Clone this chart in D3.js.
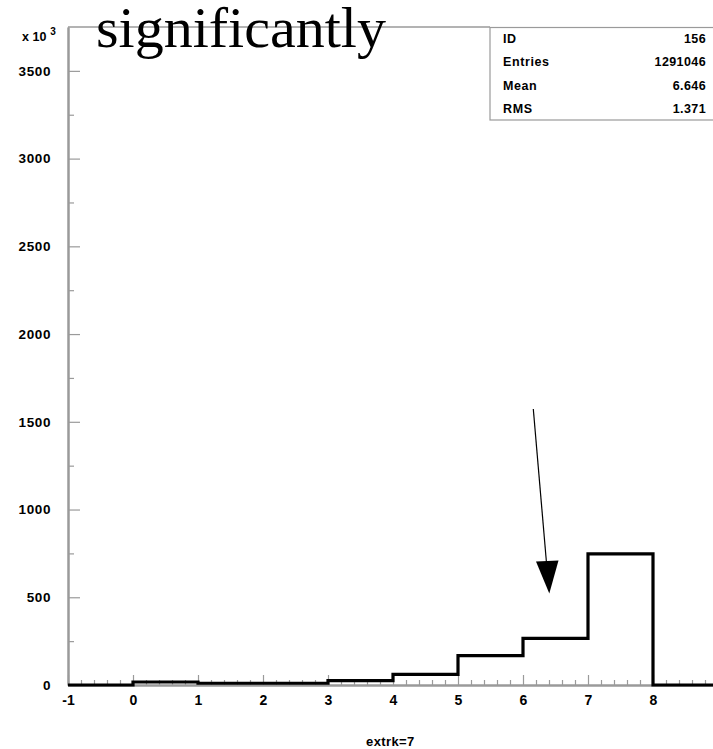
<!DOCTYPE html>
<html><head><meta charset="utf-8">
<script src="https://cdn.jsdelivr.net/npm/d3@7"></script>
<style>
html,body{margin:0;padding:0;background:#fff;overflow:hidden;}
svg{display:block;}
.lbl{font-family:"Liberation Sans",Arial,sans-serif;font-weight:bold;fill:#000;}
</style></head>
<body>
<script>
// ---- data ----
const binEdges = [-1, 0, 1, 2, 3, 4, 5, 6, 7, 8];      // bin lower edges (width 1)
const binCounts = [0, 17, 10, 10, 25, 60, 167, 266, 747, 0]; // in units of 10^3
const yTickValues = [0, 500, 1000, 1500, 2000, 2500, 3000, 3500];
const xTickValues = [-1, 0, 1, 2, 3, 4, 5, 6, 7, 8];
const statLabels = ["ID", "Entries", "Mean", "RMS"];
const statValues = ["156", "1291046", "6.646", "1.371"];
const titleText = "significantly";
const xTitle = "extrk=7";

const W = 713, H = 749;
const svg = d3.select("body").append("svg").attr("width", W).attr("height", H);

const x = d3.scaleLinear().domain([-1, 9]).range([68, 718]);
const y = d3.scaleLinear().domain([0, 3750]).range([685, 27]);

const axisColor = "#9a9a9a";
const plainFmt = d => String(d);

// frame top line
svg.append("line").attr("x1", 68).attr("x2", 490).attr("y1", y(3750)).attr("y2", y(3750))
  .attr("stroke", axisColor).attr("stroke-width", 1.5);

// y axis minor ticks
const yMinor = d3.range(250, 3750, 500);
const gyMinor = svg.append("g").attr("transform", "translate(68,0)")
  .call(d3.axisLeft(y).tickValues(yMinor).tickSizeInner(-6).tickSizeOuter(0).tickFormat(""));
// y axis major
const gy = svg.append("g").attr("transform", "translate(68,0)")
  .call(d3.axisLeft(y).tickValues(yTickValues).tickSizeInner(-12).tickSizeOuter(0).tickPadding(17).tickFormat(plainFmt));
[gy, gyMinor].forEach(g => {
  g.select(".domain").attr("stroke", axisColor).attr("stroke-width", 2);
  g.selectAll(".tick line").attr("stroke", axisColor).attr("stroke-width", 1.2);
});
gy.selectAll(".tick text").attr("class", "lbl").style("font-size", "13.5px").style("letter-spacing", "0.6px");

// x axis minor ticks
const xMinor = d3.range(-1, 9.001, 0.2).map(v => Math.round(v * 10) / 10).filter(v => Math.abs(v - Math.round(v)) > 1e-6);
const gxMinor = svg.append("g").attr("transform", "translate(0,685)")
  .call(d3.axisBottom(x).tickValues(xMinor).tickSizeInner(-5).tickSizeOuter(0).tickFormat(""));
const gx = svg.append("g").attr("transform", "translate(0,685)")
  .call(d3.axisBottom(x).tickValues(xTickValues).tickSizeInner(-10).tickSizeOuter(0).tickPadding(10).tickFormat(plainFmt));
[gx, gxMinor].forEach(g => {
  g.select(".domain").attr("stroke", axisColor).attr("stroke-width", 2);
  g.selectAll(".tick line").attr("stroke", axisColor).attr("stroke-width", 1.2);
});
gx.selectAll(".tick text").attr("class", "lbl").style("font-size", "14px");

// histogram step line
const pts = binEdges.map((e, i) => [e, binCounts[i]]);
pts.push([binEdges[binEdges.length - 1] + 1, binCounts[binCounts.length - 1]]);
const line = d3.line().x(d => x(d[0])).y(d => y(d[1])).curve(d3.curveStepAfter);
svg.append("path").attr("d", line(pts)).attr("fill", "none").attr("stroke", "#000")
  .attr("stroke-width", 3.2).attr("stroke-linejoin", "miter");

// x10^3 label
const mult = svg.append("text").attr("class", "lbl").attr("x", 22).attr("y", 41).style("font-size", "12.5px");
mult.append("tspan").text("x 10");
mult.append("tspan").attr("dx", 4).attr("dy", -6).style("font-size", "10px").text("3");

// title
svg.append("text").attr("x", 96).attr("y", 47)
  .style("font-family", '"Liberation Serif","Times New Roman",serif').style("font-size", "58px")
  .attr("fill", "#000").text(titleText);

// stats box
svg.append("rect").attr("x", 490).attr("y", 27.5).attr("width", 240).attr("height", 92.5)
  .attr("fill", "#fff").attr("stroke", axisColor).attr("stroke-width", 1.2);
statLabels.forEach((s, i) => {
  svg.append("text").attr("class", "lbl").attr("x", 503).attr("y", 43 + i * 23.3)
    .style("font-size", "12.5px").style("letter-spacing", "0.6px").text(s);
  svg.append("text").attr("class", "lbl").attr("x", 706).attr("y", 43 + i * 23.3)
    .attr("text-anchor", "end").style("font-size", "12.5px").style("letter-spacing", "0.4px").text(statValues[i]);
});

// x title
svg.append("text").attr("class", "lbl").attr("x", 366).attr("y", 746)
  .style("font-size", "13px").style("letter-spacing", "0.4px").text(xTitle);

// arrow
svg.append("line").attr("x1", 533.3).attr("y1", 409).attr("x2", 546.5).attr("y2", 563)
  .attr("stroke", "#000").attr("stroke-width", 1.2);
svg.append("path").attr("d", "M536,561.5 L558.5,560.5 L549.3,593.5 Z").attr("fill", "#000");
</script>
</body></html>
